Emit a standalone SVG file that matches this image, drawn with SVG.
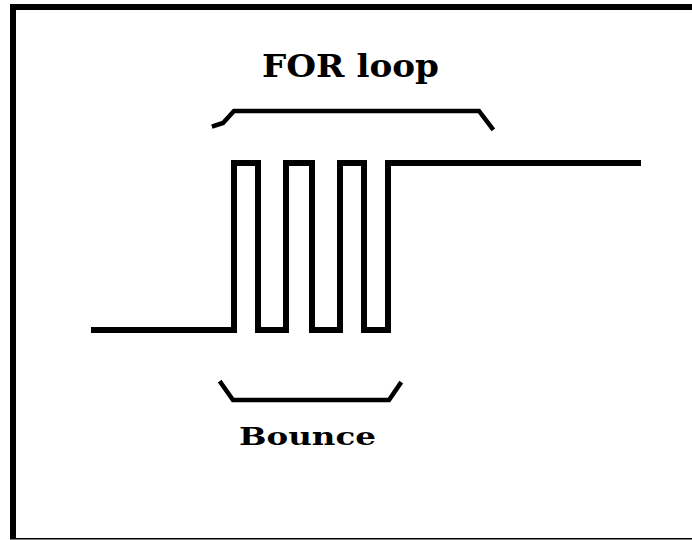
<svg xmlns="http://www.w3.org/2000/svg" width="692" height="540" viewBox="0 0 692 540">
  <style>
    .wire { fill: none; stroke: #000; stroke-width: 6; stroke-linejoin: miter; stroke-linecap: butt; }
    .brace { fill: none; stroke: #000; stroke-width: 4.5; stroke-linejoin: miter; stroke-linecap: square; }
    .lbl { font-family: "DejaVu Serif", "Liberation Serif", serif; font-weight: bold; fill: #000; }
  </style>
  <rect x="0" y="0" width="692" height="540" fill="#fff"/>
  <g id="frame">
    <rect x="10" y="4" width="682" height="6" fill="#000"/>
    <rect x="10" y="4" width="6" height="535" fill="#000"/>
    <rect x="10" y="538" width="682" height="1.5" fill="#000"/>
  </g>
  <g id="signal">
    <path class="wire" d="M91,330 H234 V163 H258 V330 H286 V163 H312 V330 H340 V163 H364 V330 H388 V163 H641"/>
  </g>
  <g id="for-loop">
    <path class="brace" d="M214,126 L223,123 L234,111 H479 L492,128"/>
    <text class="lbl" x="262" y="77" font-size="32" textLength="177" lengthAdjust="spacingAndGlyphs">FOR loop</text>
  </g>
  <g id="bounce">
    <path class="brace" d="M221,383 L233,400 H389 L400,384"/>
    <text class="lbl" x="239" y="445" font-size="25" textLength="137" lengthAdjust="spacingAndGlyphs">Bounce</text>
  </g>
</svg>
